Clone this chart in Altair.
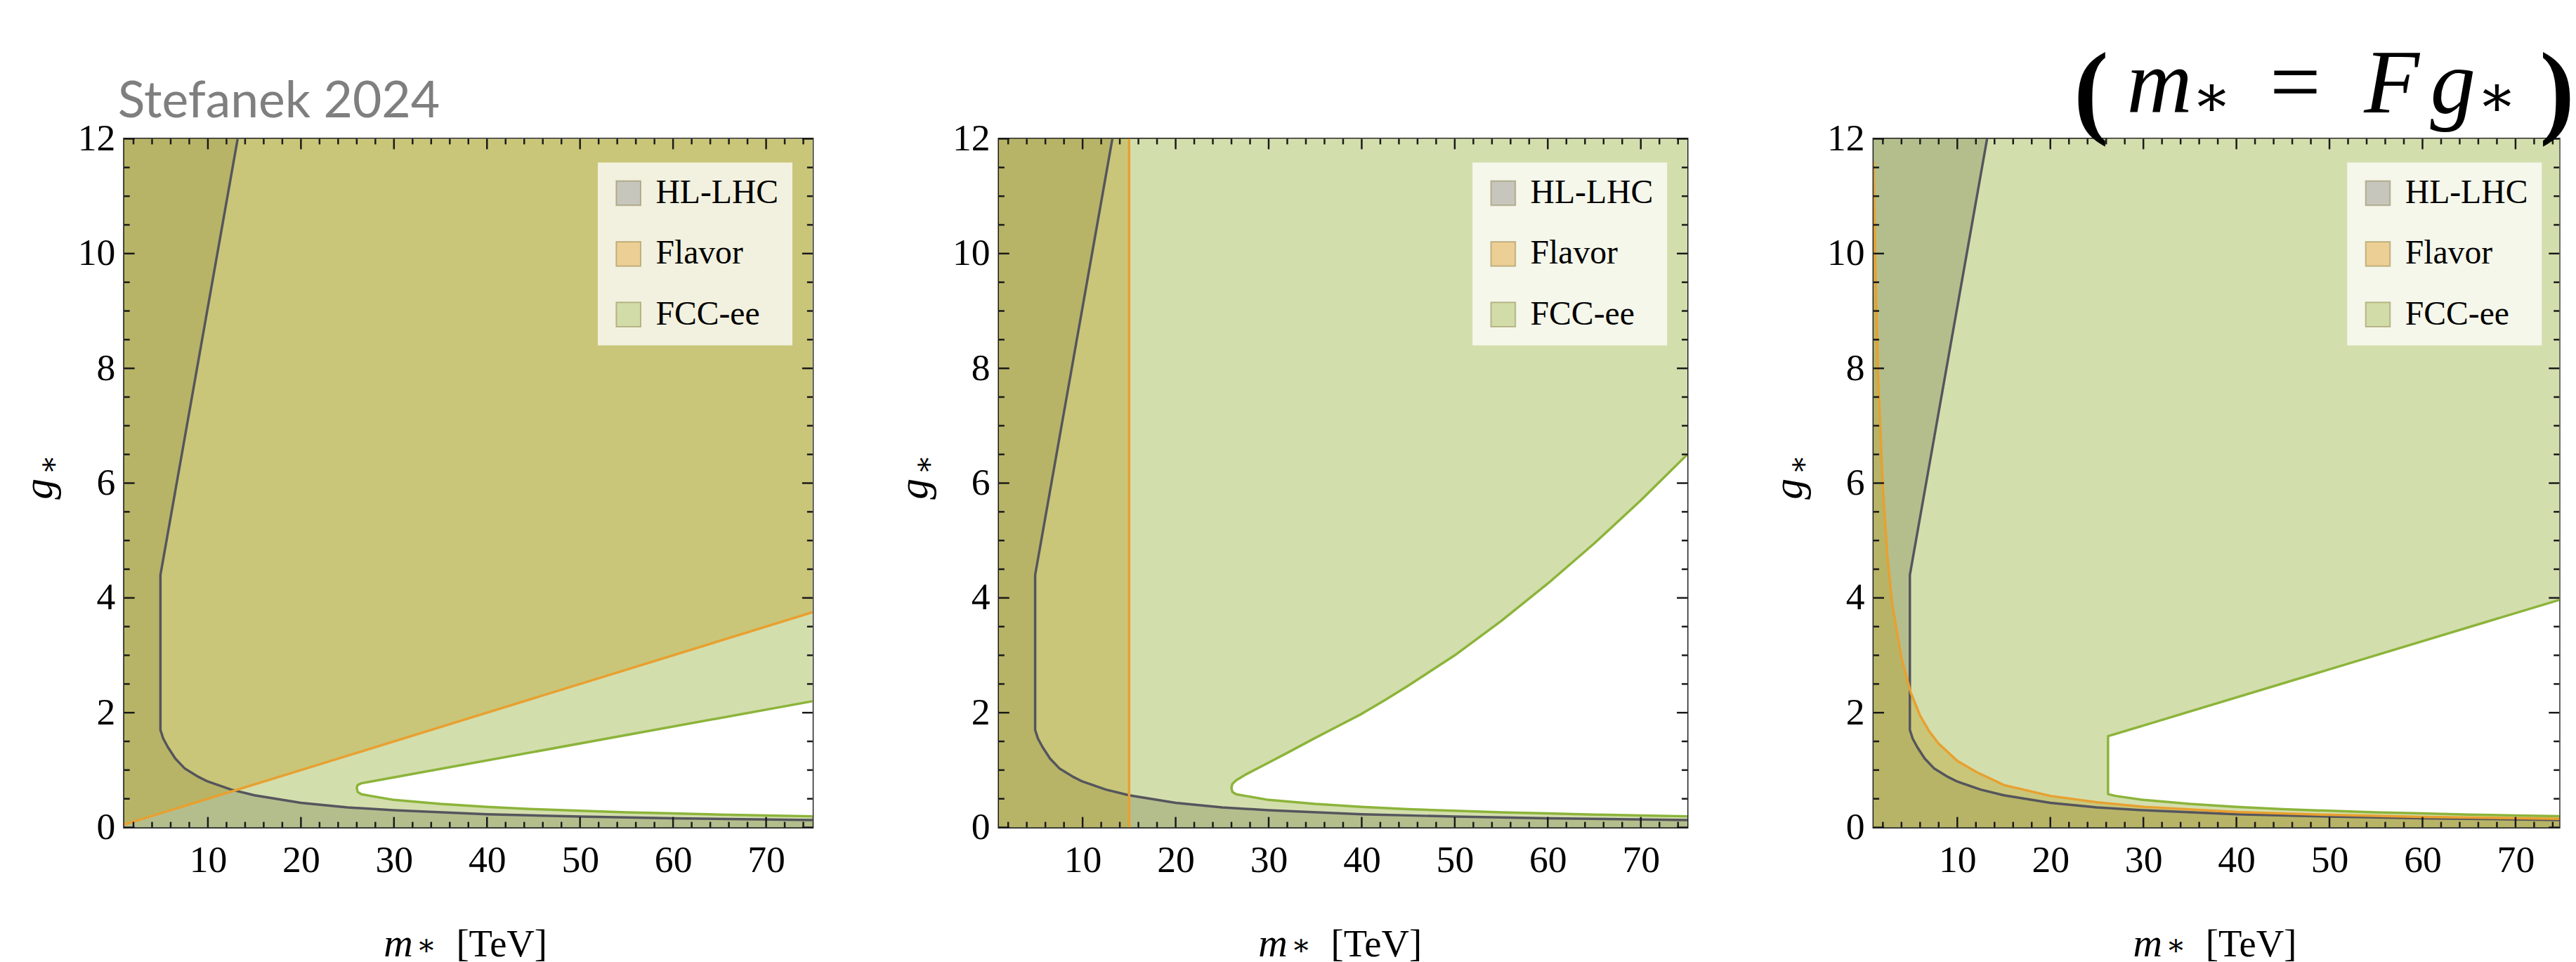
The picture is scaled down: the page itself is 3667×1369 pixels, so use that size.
import altair as alt
import pandas as pd

# ---------------- data ----------------
X_DOMAIN = [1, 75]
X_DOMAIN_P3 = [1, 74.7]
Y_DOMAIN = [0, 12]
X_LABELS = [10, 20, 30, 40, 50, 60, 70]
Y_LABELS = [0, 2, 4, 6, 8, 10, 12]
X_MINOR = [2, 4, 6, 8, 12, 14, 16, 18, 22, 24, 26, 28, 32, 34, 36, 38, 42, 44, 46, 48,
           52, 54, 56, 58, 62, 64, 66, 68, 72, 74]
Y_MINOR = [0.5, 1, 1.5, 2.5, 3, 3.5, 4.5, 5, 5.5, 6.5, 7, 7.5, 8.5, 9, 9.5, 10.5, 11, 11.5]

LEGEND_NAMES = ["HL-LHC", "Flavor", "FCC-ee"]

# HL-LHC boundary (same in all panels)
HL_UPPER_G = [1.7, 4.4, 12.0]
HL_UPPER_M = [4.9, 4.9, 13.2]
HL_LOWER_M = [1, 4.9, 5.2, 5.7, 6.5, 7.5, 9, 10, 12.5, 15, 20, 25, 30, 40, 50, 60, 75]
HL_LOWER_G = [1.7, 1.7, 1.55, 1.4, 1.2, 1.03, 0.88, 0.8, 0.66, 0.56, 0.43, 0.35, 0.3, 0.23, 0.19, 0.16, 0.13]

# Flavor boundaries
FL1_M = [1, 75]
FL1_G = [0.05, 3.75]
FL2_M = [15]
FL3_M = [1.0, 1.2, 1.5, 2, 2.5, 3, 4, 5, 6, 7, 8, 10, 12, 15, 20, 25, 30, 40, 50, 60, 75]
FL3_G = [11.6, 9.7, 7.8, 5.9, 4.7, 3.9, 2.95, 2.35, 1.95, 1.67, 1.46, 1.16, 0.97, 0.74, 0.55,
         0.44, 0.36, 0.27, 0.22, 0.185, 0.15]

# FCC-ee allowed "hole" boundaries
H1_LOW_M = [26.0, 26.1, 26.5, 27.5, 30, 35, 40, 45, 50, 55, 60, 65, 70, 75]
H1_LOW_G = [0.69, 0.62, 0.58, 0.55, 0.48, 0.41, 0.36, 0.32, 0.29, 0.265, 0.245, 0.225, 0.21, 0.195]
H1_UP_M = [26.0, 26.1, 26.5, 27.5, 75]
H1_UP_G = [0.69, 0.74, 0.77, 0.80, 2.2]

H2_LOW_M = H1_LOW_M
H2_LOW_G = H1_LOW_G
H2_UP_M = [26.0, 26.1, 26.5, 27.5, 30, 32, 35, 37.5, 40, 42.5, 45, 50, 55, 60, 65, 70, 75]
H2_UP_G = [0.69, 0.76, 0.82, 0.92, 1.13, 1.3, 1.56, 1.77, 1.98, 2.22, 2.47, 3.0, 3.6, 4.25, 4.95, 5.7, 6.5]

H3_LOW_M = [26.2, 27, 30, 35, 40, 45, 50, 55, 60, 65, 70, 75]
H3_LOW_G = [0.58, 0.55, 0.48, 0.41, 0.36, 0.32, 0.29, 0.265, 0.245, 0.225, 0.21, 0.195]
H3_UP_M = [26.2, 75]
H3_UP_G = [1.59, 3.98]

TITLE_LEFT = "Stefanek 2024"
FORMULA = ["(", "m", "\u2217", "=", "F", "g", "\u2217", ")"]
X_TITLE = ["m", "\u2217", "[TeV]"]
Y_TITLE = ["g", "\u2217"]

# ---------------- styles ----------------
FCC_FILL = "#d3dead"
FLAVOR_FILL = "#bca635"
FLAVOR_OP = 0.43
GRAY_FILL = "#7a8553"
GRAY_OP = 0.35
LINE_GRAY = "#55555d"
LINE_ORANGE = "#e8a030"
LINE_GREEN = "#8cb43a"
LINE_W = 3.5
SWATCH_FILL = ["#c6c6bc", "#ebcf95", "#d1dca9"]
TICK_COLOR = "#1a1a1a"
SERIF = "Liberation Serif"
W, H = 987, 987
PLOT_LEFT, PLOT_TOP = 176, 192   # where the first frame sits on the page


def df(**cols):
    return pd.DataFrame(cols)


def panel(which):
    xdom = X_DOMAIN_P3 if which == 3 else X_DOMAIN
    width = 983 if which == 3 else W
    xs = alt.Scale(domain=xdom, nice=False, zero=False)
    ys = alt.Scale(domain=Y_DOMAIN, nice=False, zero=False)
    xax = alt.Axis(values=X_LABELS, domain=False, ticks=False, grid=False, title=None,
                   labelFont=SERIF, labelFontSize=54, labelColor="black", labelPadding=20,
                   labelFlush=False)
    yax = alt.Axis(values=Y_LABELS, domain=False, ticks=False, grid=False, title=None,
                   labelFont=SERIF, labelFontSize=54, labelColor="black", labelPadding=13,
                   labelFlush=False)

    X = lambda f: alt.X(f, type="quantitative", scale=xs, axis=xax)
    Y = lambda f: alt.Y(f, type="quantitative", scale=ys, axis=yax)

    top = Y_DOMAIN[1]
    layers = []
    # FCC-ee excluded: whole frame, minus the allowed hole
    layers.append(alt.Chart(df(x0=[xdom[0]], x1=[75], y0=[Y_DOMAIN[0]], y1=[top]))
                  .mark_rect(color=FCC_FILL, clip=True)
                  .encode(x=X("x0"), x2="x1", y=Y("y0"), y2="y1"))
    lm, lg, um, ug = {1: (H1_LOW_M, H1_LOW_G, H1_UP_M, H1_UP_G),
                      2: (H2_LOW_M, H2_LOW_G, H2_UP_M, H2_UP_G),
                      3: (H3_LOW_M, H3_LOW_G, H3_UP_M, H3_UP_G)}[which]
    layers.append(alt.Chart(df(m=lm, g=lg, t=[top] * len(lm)))
                  .mark_area(color="white", opacity=1, clip=True)
                  .encode(x=X("m"), y=Y("g"), y2="t"))
    cover_m = [xdom[0]] + um
    cover_g = [top] + ug
    layers.append(alt.Chart(df(m=cover_m, g=cover_g, t=[top] * len(cover_m)))
                  .mark_area(color=FCC_FILL, opacity=1, clip=True)
                  .encode(x=X("m"), y=Y("g"), y2="t"))
    # HL-LHC excluded region
    layers.append(alt.Chart(df(m=HL_UPPER_M, g=HL_UPPER_G, l=[X_DOMAIN[0]] * 3))
                  .mark_area(color=GRAY_FILL, opacity=GRAY_OP, orient="horizontal", clip=True)
                  .encode(y=Y("g"), x=X("m"), x2="l"))
    layers.append(alt.Chart(df(m=HL_LOWER_M, g=HL_LOWER_G, b=[0] * len(HL_LOWER_M)))
                  .mark_area(color=GRAY_FILL, opacity=GRAY_OP, clip=True)
                  .encode(x=X("m"), y=Y("g"), y2="b"))
    # Flavor excluded region
    if which == 1:
        layers.append(alt.Chart(df(m=FL1_M, g=FL1_G, t=[top] * 2))
                      .mark_area(color=FLAVOR_FILL, opacity=FLAVOR_OP, clip=True)
                      .encode(x=X("m"), y=Y("g"), y2="t"))
    elif which == 2:
        layers.append(alt.Chart(df(x0=[X_DOMAIN[0]], x1=FL2_M, y0=[0], y1=[top]))
                      .mark_rect(color=FLAVOR_FILL, opacity=FLAVOR_OP, clip=True)
                      .encode(x=X("x0"), x2="x1", y=Y("y0"), y2="y1"))
    else:
        layers.append(alt.Chart(df(m=FL3_M, g=FL3_G, b=[0] * len(FL3_M)))
                      .mark_area(color=FLAVOR_FILL, opacity=FLAVOR_OP, clip=True)
                      .encode(x=X("m"), y=Y("g"), y2="b"))

    # boundary lines
    start = 1 if (lm[0] == um[0] and lg[0] == ug[0]) else 0
    path_m = list(reversed(um)) + lm[start:]
    path_g = list(reversed(ug)) + lg[start:]
    layers.append(alt.Chart(df(m=path_m, g=path_g, i=list(range(len(path_m)))))
                  .mark_line(color=LINE_GREEN, strokeWidth=LINE_W, clip=True, strokeJoin="round")
                  .encode(x=X("m"), y=Y("g"), order="i:Q"))
    gm = list(reversed(HL_UPPER_M)) + HL_LOWER_M[2:]
    gg = list(reversed(HL_UPPER_G)) + HL_LOWER_G[2:]
    layers.append(alt.Chart(df(m=gm, g=gg, i=list(range(len(gm)))))
                  .mark_line(color=LINE_GRAY, strokeWidth=LINE_W, clip=True, strokeJoin="round")
                  .encode(x=X("m"), y=Y("g"), order="i:Q"))
    if which == 1:
        layers.append(alt.Chart(df(m=FL1_M, g=FL1_G))
                      .mark_line(color=LINE_ORANGE, strokeWidth=LINE_W, clip=True)
                      .encode(x=X("m"), y=Y("g")))
    elif which == 2:
        layers.append(alt.Chart(df(m=FL2_M))
                      .mark_rule(color=LINE_ORANGE, strokeWidth=LINE_W, clip=True)
                      .encode(x=X("m")))
    else:
        layers.append(alt.Chart(df(m=FL3_M, g=FL3_G))
                      .mark_line(color=LINE_ORANGE, strokeWidth=LINE_W, clip=True)
                      .encode(x=X("m"), y=Y("g")))

    # inward frame ticks
    for vals, ln in ((X_LABELS, 15), (X_MINOR, 8)):
        d = df(v=vals)
        layers.append(alt.Chart(d).mark_rule(color=TICK_COLOR, strokeWidth=2.5)
                      .encode(x=X("v"), y=alt.value(H), y2=alt.value(H - ln)))
        layers.append(alt.Chart(d).mark_rule(color=TICK_COLOR, strokeWidth=2.5)
                      .encode(x=X("v"), y=alt.value(0), y2=alt.value(ln)))
    for vals, ln in ((Y_LABELS, 15), (Y_MINOR, 8)):
        d = df(v=vals)
        layers.append(alt.Chart(d).mark_rule(color=TICK_COLOR, strokeWidth=2.5)
                      .encode(y=Y("v"), x=alt.value(0), x2=alt.value(ln)))
        layers.append(alt.Chart(d).mark_rule(color=TICK_COLOR, strokeWidth=2.5)
                      .encode(y=Y("v"), x=alt.value(width), x2=alt.value(width - ln)))

    # legend (from an empty layer whose fill scale carries the three entries)
    leg = alt.Legend(title=None, orient="none", legendX=679, legendY=34,
                     symbolType="square", symbolSize=1225, symbolStrokeWidth=2,
                     symbolStrokeColor="rgba(110,90,20,0.35)",
                     labelFont=SERIF, labelFontSize=48, labelColor="black",
                     labelLimit=500, labelOffset=15, padding=20, rowPadding=39,
                     fillColor="rgba(255,255,255,0.76)", symbolOpacity=1)
    layers.append(alt.Chart(df(name=LEGEND_NAMES)).mark_square(opacity=1)
                  .encode(fill=alt.Fill("name:N", scale=alt.Scale(domain=LEGEND_NAMES, range=SWATCH_FILL),
                                        legend=leg))
                  .transform_filter("false"))

    # axis titles
    def txt(t, x, y, **kw):
        return alt.Chart(df(t=[t])).mark_text(**kw).encode(text="t:N", x=alt.value(x), y=alt.value(y))

    layers.append(txt(X_TITLE[0], 372, 1155, font=SERIF, fontStyle="italic", fontSize=58, align="left"))
    layers.append(txt(X_TITLE[1], 419, 1157, font="DejaVu Serif", fontSize=42, align="left", baseline="middle"))
    layers.append(txt(X_TITLE[2], 476, 1155, font=SERIF, fontSize=55, align="left"))
    layers.append(txt(Y_TITLE[0], -121, 502, font=SERIF, fontStyle="italic", fontSize=60, angle=270,
                      align="center"))
    layers.append(txt(Y_TITLE[1], -107, 467, font="DejaVu Serif", fontSize=42, angle=270,
                      align="center", baseline="middle"))

    if which == 1:
        layers.append(txt(TITLE_LEFT, -9, -53, font="Lato", fontSize=72, color="#7f7f7f", align="left"))
        # invisible anchor that fixes where the first frame lands on the page
        layers.append(alt.Chart(df(t=[0])).mark_rule(opacity=0, strokeWidth=1)
                      .encode(x=alt.value(-PLOT_LEFT), x2=alt.value(-PLOT_LEFT),
                              y=alt.value(-PLOT_TOP), y2=alt.value(-PLOT_TOP + 1)))
    if which == 3:
        f = FORMULA
        layers.append(txt(f[0], 287, -66, font=SERIF, fontSize=150, fontWeight="bold", align="left"))
        layers.append(txt(f[1], 363, -77, font=SERIF, fontStyle="italic", fontSize=130, align="left"))
        layers.append(txt(f[2], 456, -58, font="DejaVu Serif", fontSize=84, align="left", baseline="middle"))
        layers.append(txt(f[3], 568, -77, font=SERIF, fontSize=130, align="left"))
        layers.append(txt(f[4], 703, -77, font=SERIF, fontStyle="italic", fontSize=130, align="left"))
        layers.append(txt(f[5], 798, -77, font=SERIF, fontStyle="italic", fontSize=130, align="left"))
        layers.append(txt(f[6], 865, -58, font="DejaVu Serif", fontSize=84, align="left", baseline="middle"))
        layers.append(txt(f[7], 955, -66, font=SERIF, fontSize=150, fontWeight="bold", align="left"))

    return alt.layer(*layers).properties(width=width, height=H)


chart = (alt.hconcat(panel(1), panel(2), panel(3), spacing=267, bounds="flush")
         .resolve_scale(fill="independent")
         .resolve_legend(fill="independent")
         .configure_view(stroke="#1e1e1e", strokeWidth=3)
         .properties(padding={"left": 0, "top": 0, "right": 0, "bottom": 0},
                     background="white"))

chart.save("out.html", embed_options={"renderer": "svg", "actions": False})
